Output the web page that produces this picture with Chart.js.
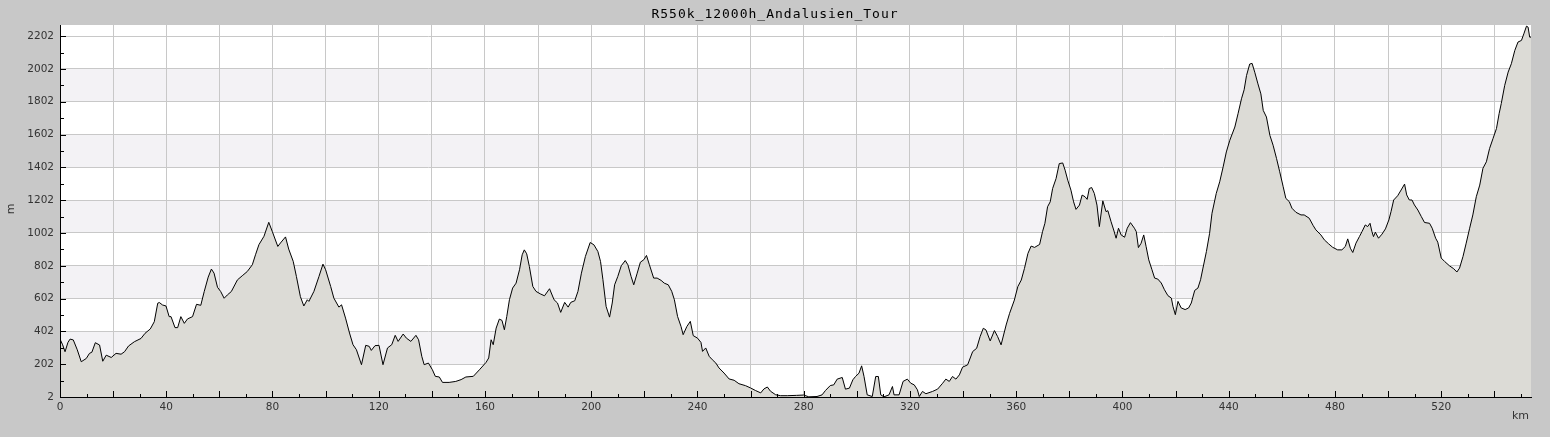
<!DOCTYPE html>
<html>
<head>
<meta charset="utf-8">
<title>R550k_12000h_Andalusien_Tour</title>
<script src="https://cdn.jsdelivr.net/npm/chart.js@4.4.0/dist/chart.umd.min.js"></script>
<style>
    html, body { margin: 0; padding: 0; background: #c8c8c8; }
    #wrap { position: relative; width: 1550px; height: 437px; }
</style>
</head>
<body>
<div id="wrap"><canvas id="profileChart"></canvas></div>
<script>
const chartTitle = 'R550k_12000h_Andalusien_Tour';

// distance along the route (km)
const km = [
    0, 1.0, 1.9, 3.0, 3.8, 5.0, 6.5, 8.0, 9.9, 11.1, 12.0, 13.3, 14.9, 16.1, 17.4, 19.3,
    21.1, 23.0, 24.3, 25.8, 28.0, 30.5, 32.0, 34.0, 35.5, 36.8, 37.4, 38.6, 39.9, 41.1, 41.8,
    43.3, 44.3, 45.5, 46.8, 48.0, 49.9, 51.4, 53.0, 54.3, 55.8, 57.0, 58.0, 59.3, 60.5, 61.8,
    63.0, 64.5, 66.8, 68.6, 70.5, 72.4, 73.6, 74.9, 76.8, 78.6, 79.9, 82.0, 83.0, 84.9, 86.1,
    87.8, 89.0, 90.5, 91.8,
    93.1, 93.7, 95.6, 97.5, 99.0, 100.0, 101.9, 103.1, 105.0, 106.0, 107.5, 109.0, 110.3,
    111.6, 113.5, 115.1, 116.4, 117.2, 118.6, 120.1, 121.6, 123.3, 124.9, 126.2, 127.3, 129.2,
    130.4, 132.1, 134.0, 135.0, 136.2, 137.1, 138.7, 140.2, 141.3, 142.8, 144.0, 146.5, 149.0,
    151.0, 152.8, 155.6, 157.9, 160.4, 161.4, 162.3, 163.1, 164.2, 165.4, 166.4, 167.3, 168.2,
    169.2, 170.4, 171.7, 173.0, 174.0, 174.8, 175.7, 176.7, 178.0, 179.2, 180.8, 182.4, 184.3,
    186.0, 187.3, 188.5, 190.0, 191.3, 192.3, 193.8, 195.0, 196.3, 197.8, 199.6, 201.0, 202.5,
    203.5, 204.4, 205.6, 206.9, 207.9, 208.8, 210.0, 211.3, 212.8, 213.8, 215.0, 216.0, 217.3,
    218.5, 219.8, 220.8, 221.9, 223.5, 224.8, 226.3, 227.5, 229.0, 230.3, 231.3, 232.5, 233.8,
    234.6, 236.0, 237.3, 238.4, 240.0, 241.3, 241.9, 243.1, 244.4, 245.6, 246.9, 248.1, 250.0,
    251.9, 253.8, 255.6, 258.1, 260.0, 261.9, 263.8, 265.0, 266.3, 267.5, 269.4, 271.3, 273.8,
    277.3,
    280.0, 281.9, 285.0, 286.9, 288.2, 290.0, 291.3, 292.6, 294.5, 295.7, 297.2, 298.5, 299.5,
    300.8, 301.8, 302.7, 303.9, 305.8, 307.1, 308.1, 309.0, 310.2, 312.1, 313.4, 314.0, 315.9,
    317.4, 319.0, 320.3, 321.6, 322.8, 323.5, 324.7, 326.0, 328.5, 330.4, 332.3, 333.5, 334.8,
    336.0, 337.3, 338.6, 339.8, 341.7, 343.6, 345.1, 346.4, 347.6, 348.6, 350.2, 351.8, 353.0,
    354.3, 356.2, 357.5, 359.3, 360.6, 361.9, 363.1, 364.4, 365.6, 366.9, 368.8,
    369.9, 370.8, 371.8, 372.8, 373.7, 375.0, 376.2, 377.5, 378.4, 379.4, 380.6, 381.6, 382.5,
    383.8, 384.8, 385.9, 386.7, 387.5, 388.4, 389.4, 390.4, 391.3, 392.6, 393.8, 394.5, 395.7,
    396.7, 397.6, 398.5, 399.5, 400.8, 401.8, 403.0, 404.5, 405.2, 406.0, 407.0, 408.0, 408.9,
    409.9, 411.1, 412.1, 413.3, 414.6, 415.8, 417.1, 418.4, 419.0, 419.9, 420.9, 422.1, 423.6,
    424.9, 425.9, 427.2, 428.4, 429.4, 430.3, 431.6, 432.8, 433.7, 435.3, 436.6, 437.9, 439.1,
    440.4, 442.3, 443.5, 444.8, 445.8, 446.7, 447.9, 448.8, 449.8, 451.0, 452.1, 453.0, 454.2,
    455.5, 456.7, 458.0, 459.2, 460.5,
    461.5, 462.8, 463.8, 465.3, 467.2, 468.4, 470.3, 471.8, 472.8, 474.7, 476.0, 477.6, 479.1,
    481.0, 482.6, 483.9, 484.8, 485.8, 486.7, 487.9, 489.2, 490.2, 491.4, 492.3, 493.2, 493.9,
    494.5, 495.2, 496.4, 497.7, 499.0, 500.3, 501.1, 502.1, 503.6, 504.9, 506.2, 507.0, 508.0,
    509.0, 509.9, 511.2, 512.5, 513.7, 515.6, 516.6, 517.9, 518.7, 520.0, 521.3, 523.1, 524.7,
    525.9, 526.9, 528.2, 529.4, 530.7, 531.9, 533.2, 534.5, 535.7, 537.0, 538.2, 539.5, 540.8,
    541.8, 542.6, 543.9, 545.2, 546.4, 547.7, 548.9, 550.2, 551.1, 552.1, 552.7, 553.3, 553.8
];

// elevation (m)
const elev = [
    355, 320, 278, 335, 355, 350, 290, 217, 237, 268, 275, 333, 319, 220, 257, 243,
    268, 263, 278, 313, 339, 359, 390, 417, 461, 574, 578, 563, 557, 492, 492,
    425, 425, 492, 451, 478, 492, 567, 561, 645, 733, 782, 757, 671, 645, 604,
    624, 645, 716, 741, 767, 808, 869, 931, 982, 1067, 1012, 920, 941, 978, 904,
    829, 737, 614, 557,
    595, 585, 646, 737, 812, 778, 676, 605, 550, 564, 483, 392, 321,
    290, 199, 317, 311, 286, 315, 317, 199, 301, 321, 378, 341, 386,
    361, 341, 378, 351, 250, 199, 209, 168, 128, 124, 91, 91, 97,
    108, 124, 128, 168, 213, 240, 351, 321, 422, 477, 469, 412, 493,
    595, 666, 696, 778, 869, 899, 875, 798, 676, 646, 631, 619, 662,
    595, 575, 518, 579, 550, 579, 589, 646, 757, 859, 944, 930, 889,
    828, 717, 554, 489, 575, 686, 737, 802, 834, 808, 737, 686, 757,
    824, 839, 865, 808, 727, 727, 713, 696, 686, 646, 595, 493, 432,
    382, 432, 463, 376, 361, 335, 280, 301, 250, 229, 209, 179, 148,
    112, 104, 83, 71, 57, 41, 27, 51, 63, 37, 16, 10, 10,
    12,
    14, 3, 5, 15, 42, 72, 76, 111, 121, 50, 56, 107, 127,
    147, 192, 127, 15, 5, 127, 127, 15, 3, 15, 66, 15, 15,
    97, 111, 86, 76, 46, 5, 36, 22, 36, 50, 86, 111, 97,
    127, 111, 137, 184, 198, 279, 299, 370, 421, 411, 344, 407, 370,
    320, 441, 512, 593, 675, 715, 786, 877, 922, 914, 932,
    1010, 1061, 1162, 1192, 1273, 1334, 1425, 1429, 1385, 1324, 1263, 1192, 1146,
    1172, 1233, 1223, 1207, 1273, 1279, 1243, 1172, 1041, 1198, 1132, 1138, 1071,
    1020, 970, 1031, 990, 976, 1031, 1065, 1031, 1010, 913, 939, 990, 919,
    838, 778, 727, 721, 697, 656, 620, 605, 555, 504, 585, 545, 535,
    545, 575, 652, 666, 717, 788, 889, 1000, 1122, 1243, 1314, 1405, 1496,
    1567, 1648, 1729, 1820, 1875, 1962, 2032, 2036, 1982, 1911, 1850, 1749, 1709,
    1597, 1537, 1456, 1375, 1284,
    1213, 1193, 1153, 1128, 1112, 1112, 1092, 1047, 1021, 990, 960, 936, 915,
    899, 899, 920, 966, 909, 883, 940, 980, 1011, 1051, 1041, 1061, 1011,
    980, 1007, 970, 995, 1027, 1082, 1132, 1203, 1229, 1264, 1300, 1234, 1203,
    1203, 1173, 1142, 1102, 1066, 1061, 1031, 970, 946, 849, 828, 802, 784,
    764, 788, 859, 940, 1031, 1112, 1223, 1294, 1396, 1436, 1517, 1578, 1639,
    1730, 1791, 1902, 1983, 2034, 2115, 2166, 2176, 2216, 2263, 2257, 2196, 2196
];

// axis ticks (grid lines) and shaded bands
const xGrid = [0, 20, 40, 60, 80, 100, 120, 140, 160, 180, 200, 220, 240, 260, 280, 300,
               320, 340, 360, 380, 400, 420, 440, 460, 480, 500, 520, 540];
const yGrid = [2, 202, 402, 602, 802, 1002, 1202, 1402, 1602, 1802, 2002, 2202];
const yBands = [[202, 402], [602, 802], [1002, 1202], [1402, 1602], [1802, 2002]];

const xMax = 553.8;
const yMin = 2;
const yMax = 2270;

const tickFont = { family: 'DejaVu Sans', size: 10.5 };

// background, bands, inward tick marks, axis lines and titles
const profileFrame = {
    id: 'profileFrame',
    beforeDraw(chart) {
        const { ctx, chartArea: a, scales } = chart;
        ctx.save();
        ctx.fillStyle = '#c8c8c8';
        ctx.fillRect(0, 0, chart.width, chart.height);
        ctx.fillStyle = '#ffffff';
        ctx.fillRect(a.left, a.top, a.right - a.left, a.bottom - a.top);
        ctx.fillStyle = '#f3f2f5';
        yBands.forEach(([lo, hi]) => {
            const y1 = scales.y.getPixelForValue(hi);
            const y2 = scales.y.getPixelForValue(lo);
            ctx.fillRect(a.left, y1, a.right - a.left, y2 - y1);
        });
        ctx.restore();
    },
    afterDatasetsDraw(chart) {
        const { ctx, chartArea: a, scales } = chart;
        ctx.save();
        ctx.strokeStyle = '#000';
        ctx.lineWidth = 1;
        ctx.beginPath();
        for (let v = 0; v <= xMax; v += 10) {
            const x = Math.round(scales.x.getPixelForValue(v)) + 0.5;
            const len = v % 20 === 0 ? 6 : 3;
            ctx.moveTo(x, a.bottom);
            ctx.lineTo(x, a.bottom - len);
        }
        for (let v = yMin; v <= yMax; v += 100) {
            const y = Math.round(scales.y.getPixelForValue(v)) + 0.5;
            const len = (v - yMin) % 200 === 0 ? 6 : 4;
            ctx.moveTo(a.left, y);
            ctx.lineTo(a.left + len, y);
        }
        // axis lines
        ctx.moveTo(a.left + 0.5, a.top);
        ctx.lineTo(a.left + 0.5, a.bottom + 0.5);
        ctx.lineTo(a.right, a.bottom + 0.5);
        ctx.stroke();
        ctx.restore();
    },
    afterDraw(chart) {
        const { ctx } = chart;
        ctx.save();
        ctx.fillStyle = '#000';
        ctx.font = '13px "DejaVu Sans Mono"';
        ctx.letterSpacing = '1px';
        ctx.textAlign = 'center';
        ctx.textBaseline = 'middle';
        ctx.fillText(chartTitle, chart.width / 2, 14.5);
        ctx.letterSpacing = '0px';
        ctx.fillStyle = '#333';
        ctx.font = '11px "DejaVu Sans"';
        ctx.textAlign = 'right';
        ctx.fillText('km', 1529, 416.5);
        ctx.translate(11, 209);
        ctx.rotate(-Math.PI / 2);
        ctx.textAlign = 'center';
        ctx.fillText('m', 0, 0);
        ctx.restore();
    }
};

new Chart(document.getElementById('profileChart'), {
    type: 'line',
    data: {
        datasets: [{
            data: km.map((k, i) => ({ x: k, y: elev[i] })),
            borderColor: '#000',
            borderWidth: 1,
            backgroundColor: '#dcdbd6',
            fill: 'start',
            pointRadius: 0,
            tension: 0,
        }]
    },
    options: {
        responsive: true,
        maintainAspectRatio: false,
        animation: false,
        events: [],
        layout: { padding: { top: 25, right: 19, left: 0, bottom: 0 } },
        plugins: {
            legend: { display: false },
            tooltip: { enabled: false },
            title: { display: false },
        },
        scales: {
            x: {
                type: 'linear',
                min: 0,
                max: xMax,
                afterBuildTicks: (s) => { s.ticks = xGrid.map(v => ({ value: v })); },
                afterFit: (s) => { s.height = 40; },
                grid: { color: '#c8c8c8', drawTicks: false },
                border: { color: '#000' },
                ticks: {
                    padding: 4,
                    color: '#333',
                    font: tickFont,
                    maxRotation: 0,
                    autoSkip: false,
                    callback: (v) => (v % 40 === 0 ? String(v) : ''),
                },
            },
            y: {
                type: 'linear',
                min: yMin,
                max: yMax,
                afterBuildTicks: (s) => { s.ticks = yGrid.map(v => ({ value: v })); },
                afterFit: (s) => { s.width = 60; },
                grid: { color: '#c8c8c8', drawTicks: false },
                border: { color: '#000' },
                ticks: {
                    padding: 6,
                    color: '#333',
                    font: tickFont,
                    autoSkip: false,
                    callback: (v) => String(v),
                },
            },
        },
    },
    plugins: [profileFrame],
});
</script>
</body>
</html>
